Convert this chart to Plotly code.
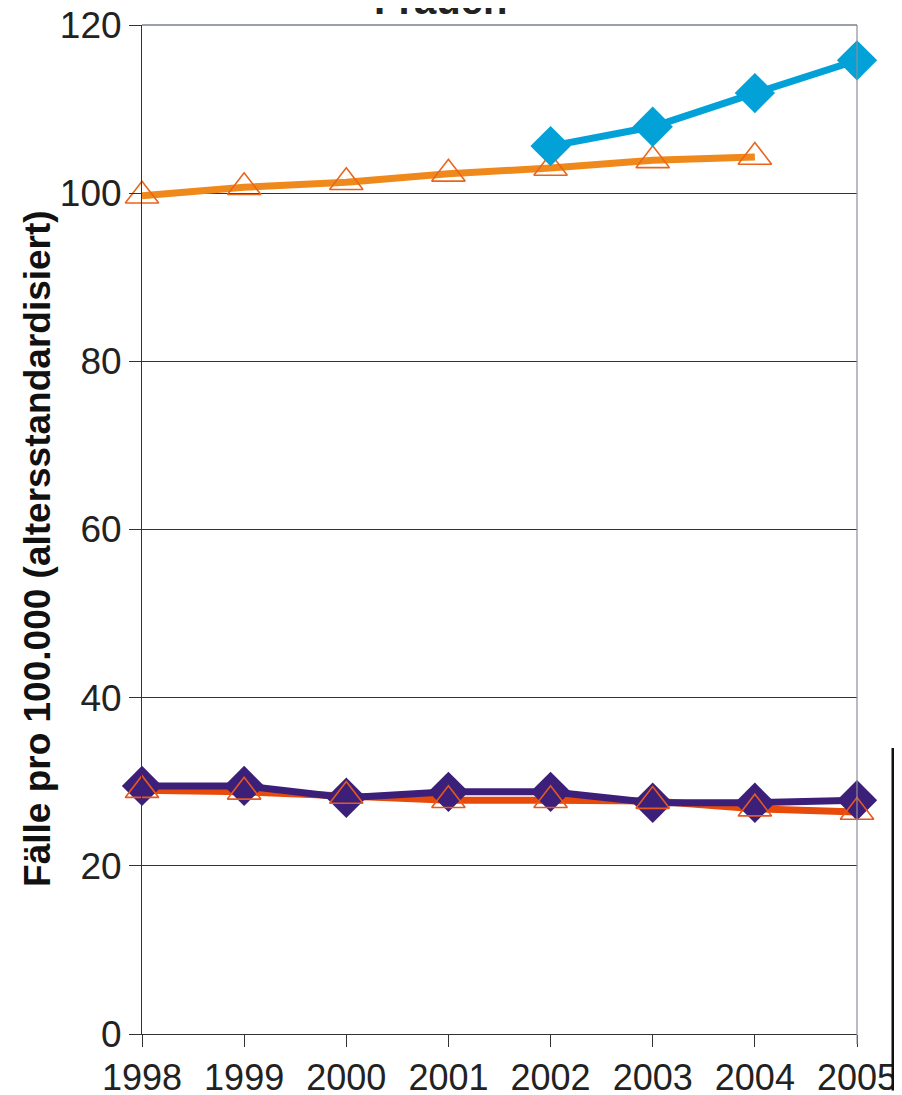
import plotly.graph_objects as go

years = [1998, 1999, 2000, 2001, 2002, 2003, 2004, 2005]
year_labels = ["1998", "1999", "2000", "2001", "2002", "2003", "2004", "2005"]
orange_top = [99.7, 100.7, 101.3, 102.3, 103.0, 103.9, 104.3, None]
blue_top = [None, None, None, None, 105.6, 107.9, 111.9, 115.8]
purple_low = [29.5, 29.5, 28.1, 28.8, 28.8, 27.5, 27.5, 27.8]
red_low = [29.0, 28.8, 28.3, 27.8, 27.8, 27.7, 26.8, 26.4]
y_ticks = [0, 20, 40, 60, 80, 100, 120]

fig = go.Figure()

# lower series
fig.add_trace(go.Scatter(x=years, y=red_low, mode="lines",
                         line=dict(color="#e84a0a", width=7), cliponaxis=False))
fig.add_trace(go.Scatter(x=years, y=purple_low, mode="lines+markers",
                         line=dict(color="#3c1f78", width=7),
                         marker=dict(symbol="diamond", size=31, color="#3c1f78"),
                         cliponaxis=False))
fig.add_trace(go.Scatter(x=years, y=red_low, mode="markers",
                         marker=dict(symbol="triangle-up-open", size=29, color="#e8581c",
                                     line=dict(width=1.6, color="#e8581c")),
                         cliponaxis=False))

# upper series
fig.add_trace(go.Scatter(x=years, y=orange_top, mode="lines",
                         line=dict(color="#f0891c", width=7), cliponaxis=False))
fig.add_trace(go.Scatter(x=years, y=orange_top, mode="markers",
                         marker=dict(symbol="triangle-up-open", size=29, color="#ea651a",
                                     line=dict(width=1.6, color="#ea651a")),
                         cliponaxis=False))
fig.add_trace(go.Scatter(x=years, y=blue_top, mode="lines+markers",
                         line=dict(color="#02a2d8", width=7),
                         marker=dict(symbol="diamond", size=31, color="#02a2d8"),
                         cliponaxis=False))

fig.update_layout(
    width=894, height=1087,
    margin=dict(l=134, r=45, t=17, b=61, autoexpand=False),
    paper_bgcolor="white", plot_bgcolor="white",
    showlegend=False,
    font=dict(family="Liberation Sans, Arial, sans-serif", color="#222"),
)
fig.update_xaxes(
    range=[1998, 2005], tickvals=years, ticktext=year_labels,
    showgrid=False, zeroline=False, automargin=False,
    showline=True, linecolor="#333", linewidth=1,
    ticks="outside", ticklen=12, tickcolor="#333",
    ticklabeloverflow="allow",
    tickfont=dict(size=36, color="#222"),
)
fig.update_yaxes(
    range=[0, 120], tickvals=y_ticks, automargin=False,
    showgrid=True, gridcolor="#333", gridwidth=1,
    zeroline=False,
    showline=True, linecolor="#333", linewidth=1,
    ticks="outside", ticklen=12, tickcolor="#333",
    ticklabeloverflow="allow",
    tickfont=dict(size=37, color="#222"),
)

# right border and top border in grey
fig.add_shape(type="line", xref="paper", yref="paper", x0=1, x1=1, y0=-0.01, y1=1,
              line=dict(color="#8a9199", width=1.2))
fig.add_shape(type="line", xref="paper", yref="paper", x0=0, x1=1, y0=1, y1=1,
              line=dict(color="#7a8088", width=1.5))
# stray vertical line at far right
fig.add_shape(type="line", xref="paper", yref="paper", x0=1.05, x1=1.05,
              y0=0.2834, y1=-0.056, line=dict(color="#111", width=2.5),
              layer="above")

fig.add_annotation(text="<b>Frauen</b>", xref="paper", yref="paper",
                   x=0.4175, y=1.025, xanchor="center", yanchor="middle",
                   showarrow=False, font=dict(size=40, color="#222"))
fig.add_annotation(text="<b>Fälle pro 100.000 (altersstandardisiert)</b>",
                   xref="paper", yref="paper", x=-0.1455, y=0.4817,
                   xanchor="center", yanchor="middle", textangle=-90,
                   showarrow=False, font=dict(size=37, color="#111"))

fig.write_html("out.html")
